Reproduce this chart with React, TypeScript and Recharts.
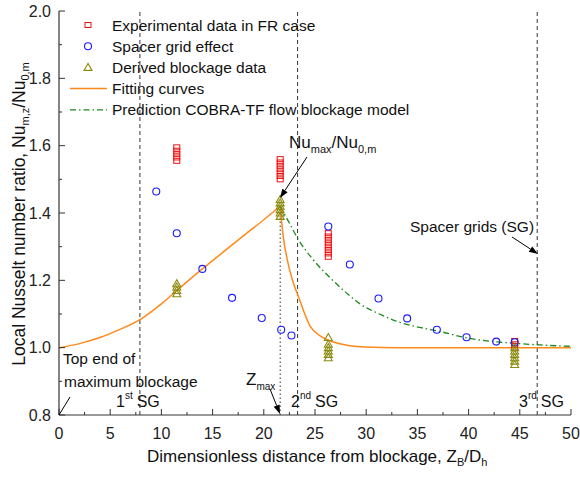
import { ComposedChart, Line, Scatter, XAxis, YAxis, ReferenceLine } from 'recharts';

// axis ticks
const xTicks = [0, 2.5, 5, 7.5, 10, 12.5, 15, 17.5, 20, 22.5, 25, 27.5, 30, 32.5, 35, 37.5, 40, 42.5, 45, 47.5, 50];
const yTicks = [0.8, 0.9, 1.0, 1.1, 1.2, 1.3, 1.4, 1.5, 1.6, 1.7, 1.8, 1.9, 2.0];

// Experimental data in FR case (stacks at each station)
const expX = [11.5, 21.6, 26.3, 44.5];
const expY = [
  [1.555, 1.565, 1.575, 1.585, 1.595],
  [1.5, 1.51, 1.52, 1.53, 1.54, 1.55, 1.56],
  [1.27, 1.28, 1.29, 1.3, 1.31, 1.32, 1.33, 1.34],
  [1.0, 1.01, 1.02],
];

// Spacer grid effect
const gridX = [9.5, 11.5, 14.0, 16.9, 19.8, 21.7, 22.7, 26.3, 28.4, 31.2, 34.0, 36.9, 39.8, 42.7, 44.5];
const gridY = [1.464, 1.34, 1.234, 1.148, 1.088, 1.053, 1.036, 1.36, 1.247, 1.146, 1.087, 1.053, 1.031, 1.018, 1.016];

// Derived blockage data
const derX = [11.5, 21.6, 26.3, 44.5];
const derY = [
  [1.16, 1.17, 1.18, 1.19],
  [1.39, 1.4, 1.41, 1.42, 1.43, 1.44],
  [0.97, 0.98, 0.99, 1.0, 1.01, 1.03],
  [0.95, 0.96, 0.97, 0.98, 0.99, 1.0],
];

// Fitting curves (rising and falling branch)
const fitUpX = [0, 2, 4, 6, 8, 10, 12, 14, 16, 18, 20, 21.6];
const fitUpY = [1.0, 1.012, 1.03, 1.055, 1.085, 1.13, 1.183, 1.234, 1.283, 1.332, 1.38, 1.42];
const fitDownX = [21.6, 21.9, 22.3, 22.8, 23.4, 24.5, 25.5, 26.5, 28, 30, 33, 40, 50];
const fitDownY = [1.42, 1.33, 1.26, 1.2, 1.15, 1.065, 1.035, 1.02, 1.008, 1.002, 1.0, 1.0, 1.0];

// Prediction COBRA-TF flow blockage model
const cobraX = [21.6, 22.5, 23.4, 24.8, 26.5, 28.1, 29.4, 31.3, 33.3, 35.9, 37.2, 40, 42.5, 45, 47, 50];
const cobraY = [1.42, 1.37, 1.32, 1.262, 1.207, 1.162, 1.13, 1.1, 1.075, 1.056, 1.048, 1.028, 1.018, 1.012, 1.008, 1.004];

// spacer grid positions and Zmax
const sgX = [7.9, 23.3, 46.7];
const zMax = 21.6;
const zMaxTop = 1.4;

const pts = (xs: number[], ys: number[]) => xs.map((x, i) => ({ x, y: ys[i] }));
const stacks = (xs: number[], ys: number[][]) => xs.flatMap((x, i) => ys[i].map((y) => ({ x, y })));

const expData = stacks(expX, expY);
const gridData = pts(gridX, gridY);
const derData = stacks(derX, derY);
const fitUp = pts(fitUpX, fitUpY);
const fitDown = pts(fitDownX, fitDownY);
const cobra = pts(cobraX, cobraY);

const RED = '#ee1111';
const BLUE = '#1a1aff';
const OLIVE = '#8a8a10';
const ORANGE = '#ff8a1a';
const GREEN = '#1a8a1a';
const AX = '#333';
const FONT = '"Liberation Sans", Arial, sans-serif';

const Square = (p: any) => <rect x={p.cx - 3} y={p.cy - 2.5} width={6} height={5} fill="none" stroke={RED} strokeWidth={1} />;
const Circle = (p: any) => <circle cx={p.cx} cy={p.cy} r={3.5} fill="none" stroke={BLUE} strokeWidth={1.1} />;
const Tri = (p: any) => (
  <polygon points={`${p.cx},${p.cy - 4} ${p.cx - 4},${p.cy + 3} ${p.cx + 4},${p.cy + 3}`} fill="none" stroke={OLIVE} strokeWidth={1.1} />
);

const XTick = (p: any) => {
  const v = p.payload.value;
  const major = v % 5 === 0;
  return (
    <g>
      <line x1={p.x} y1={p.y} x2={p.x} y2={p.y - (major ? 6 : 3)} stroke={AX} />
      {major && (
        <text x={p.x} y={p.y + 24} textAnchor="middle" fontSize={16} fill="#222" fontFamily={FONT}>{v}</text>
      )}
    </g>
  );
};

const YTick = (p: any) => {
  const v = p.payload.value;
  const major = Math.round(v * 10) % 2 === 0;
  return (
    <g>
      <line x1={p.x} y1={p.y} x2={p.x + (major ? 6 : 3)} y2={p.y} stroke={AX} />
      {major && (
        <text x={p.x - 8} y={p.y + 5.5} textAnchor="end" fontSize={16} fill="#222" fontFamily={FONT}>{v.toFixed(1)}</text>
      )}
    </g>
  );
};

const RTick = (p: any) => {
  const v = p.payload.value;
  const major = Math.round(v * 10) % 2 === 0;
  return <line x1={p.x} y1={p.y} x2={p.x - (major ? 6 : 3)} y2={p.y} stroke={AX} />;
};

const Arrow = ({ x1, y1, x2, y2 }: { x1: number; y1: number; x2: number; y2: number }) => {
  const a = Math.atan2(y2 - y1, x2 - x1);
  const l = 9, w = 3.2;
  const bx = x2 - l * Math.cos(a), by = y2 - l * Math.sin(a);
  const p1 = `${bx + w * Math.sin(a)},${by - w * Math.cos(a)}`;
  const p2 = `${bx - w * Math.sin(a)},${by + w * Math.cos(a)}`;
  return (
    <g>
      <line x1={x1} y1={y1} x2={bx} y2={by} stroke="#000" strokeWidth={1} />
      <polygon points={`${x2},${y2} ${p1} ${p2}`} fill="#000" />
    </g>
  );
};

const legendRows = [
  { label: 'Experimental data in FR case', kind: 'sq' },
  { label: 'Spacer grid effect', kind: 'ci' },
  { label: 'Derived blockage data', kind: 'tr' },
  { label: 'Fitting curves', kind: 'fit' },
  { label: 'Prediction COBRA-TF flow blockage model', kind: 'cobra' },
];

export default function App() {
  return (
    <div style={{ position: 'relative', width: 580, height: 478, background: '#fff', fontFamily: FONT }}>
      <style>{'body{margin:0}'}</style>
      <ComposedChart width={580} height={478} margin={{ top: 11, right: 9, bottom: 0, left: 0 }}>
        <XAxis type="number" dataKey="x" domain={[0, 50]} ticks={xTicks} height={63} tickSize={0} tickMargin={0}
          tickLine={false} tick={XTick} axisLine={{ stroke: AX, strokeWidth: 1.2 }} interval={0} />
        <XAxis xAxisId="top" orientation="top" type="number" domain={[0, 50]} height={0} tick={false} tickLine={false}
          axisLine={{ stroke: AX, strokeWidth: 1.2 }} />
        <YAxis type="number" dataKey="y" domain={[0.8, 2.0]} ticks={yTicks} width={59} tickSize={0} tickMargin={0}
          tickLine={false} tick={YTick} axisLine={{ stroke: AX, strokeWidth: 1.2 }} interval={0} allowDataOverflow />
        <YAxis yAxisId="right" orientation="right" type="number" domain={[0.8, 2.0]} ticks={yTicks} width={0} tickSize={0}
          tickMargin={0} tickLine={false} tick={RTick} axisLine={{ stroke: AX, strokeWidth: 1.2 }} interval={0} />
        {sgX.map((x) => (
          <ReferenceLine key={x} x={x} stroke="#333" strokeDasharray="4 3" strokeWidth={1} />
        ))}
        <ReferenceLine segment={[{ x: zMax, y: 0.8 }, { x: zMax, y: zMaxTop }]} stroke="#333" strokeDasharray="1.5 2.5" strokeWidth={1} />
        <Line data={fitUp} dataKey="y" type="monotone" stroke={ORANGE} strokeWidth={1.5} dot={false} isAnimationActive={false} />
        <Line data={fitDown} dataKey="y" type="monotone" stroke={ORANGE} strokeWidth={1.5} dot={false} isAnimationActive={false} />
        <Line data={cobra} dataKey="y" type="monotone" stroke={GREEN} strokeWidth={1.3} strokeDasharray="6 3 1.5 3" dot={false} isAnimationActive={false} />
        <Scatter data={expData} dataKey="y" shape={Square} isAnimationActive={false} />
        <Scatter data={gridData} dataKey="y" shape={Circle} isAnimationActive={false} />
        <Scatter data={derData} dataKey="y" shape={Tri} isAnimationActive={false} />
      </ComposedChart>

      <svg width={580} height={478} style={{ position: 'absolute', left: 0, top: 0, pointerEvents: 'none' }} fontFamily={FONT}>
        {/* legend */}
        {legendRows.map((r, i) => {
          const cy = 25 + i * 21.2;
          return (
            <g key={r.label}>
              {r.kind === 'sq' && <Square cx={88} cy={cy} />}
              {r.kind === 'ci' && <Circle cx={88} cy={cy} />}
              {r.kind === 'tr' && <Tri cx={88} cy={cy} />}
              {r.kind === 'fit' && <line x1={70} x2={107} y1={cy} y2={cy} stroke={ORANGE} strokeWidth={1.5} />}
              {r.kind === 'cobra' && <line x1={70} x2={107} y1={cy} y2={cy} stroke={GREEN} strokeWidth={1.3} strokeDasharray="6 3 1.5 3" />}
              <text x={112} y={cy + 5.5} fontSize={15.5} fill="#111">{r.label}</text>
            </g>
          );
        })}

        {/* axis titles */}
        <text x={147} y={462} fontSize={17} fill="#111">
          Dimensionless distance from blockage, Z<tspan fontSize={11} dy={4}>B</tspan>
          <tspan dy={-4}>/D</tspan><tspan fontSize={11} dy={4}>h</tspan>
        </text>
        <text transform="rotate(-90)" x={-214} y={25} textAnchor="middle" fontSize={17.5} fill="#111">
          Local Nusselt number ratio, Nu<tspan fontSize={11} dy={4}>m,z</tspan>
          <tspan dy={-4}>/Nu</tspan><tspan fontSize={11} dy={4}>0,m</tspan>
        </text>

        {/* annotations */}
        <text x={289} y={148} fontSize={17} fill="#111">
          Nu<tspan fontSize={11} dy={5}>max</tspan><tspan dy={-5}>/Nu</tspan><tspan fontSize={11} dy={5}>0,m</tspan>
        </text>
        <Arrow x1={307} y1={157} x2={280} y2={198} />

        <text x={410} y={232} fontSize={15.5} fill="#111">Spacer grids (SG)</text>
        <Arrow x1={512} y1={237} x2={538} y2={254} />

        <text x={63} y={364} fontSize={15.5} fill="#111">Top end of</text>
        <text x={64} y={387} fontSize={15.5} fill="#111">maximum blockage</text>
        <line x1={59} y1={415} x2={70} y2={397} stroke="#000" strokeWidth={1} />

        <text x={116} y={407} fontSize={16} fill="#111">1<tspan fontSize={10} dy={-8}>st</tspan><tspan dx={4} dy={8}>SG</tspan></text>
        <text x={291} y={407} fontSize={16} fill="#111">2<tspan fontSize={10} dy={-8}>nd</tspan><tspan dx={4} dy={8}>SG</tspan></text>
        <text x={519} y={407} fontSize={16} fill="#111">3<tspan fontSize={10} dy={-8}>rd</tspan><tspan dx={4} dy={8}>SG</tspan></text>

        <text x={246} y={385} fontSize={17} fill="#111">Z<tspan fontSize={10} dy={5}>max</tspan></text>
        <Arrow x1={270} y1={389} x2={280} y2={414} />
      </svg>
    </div>
  );
}
